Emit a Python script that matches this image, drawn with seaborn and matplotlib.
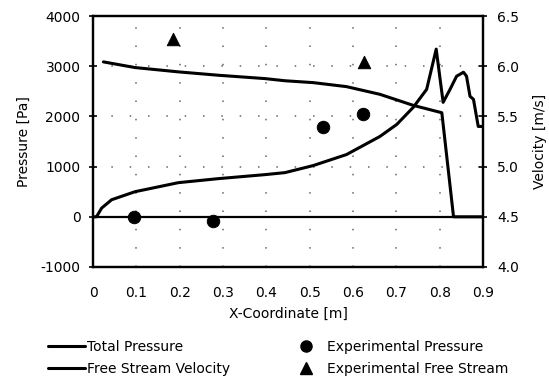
import numpy as np
import pandas as pd
import matplotlib
matplotlib.use("Agg")
import matplotlib.pyplot as plt
from matplotlib.lines import Line2D
import seaborn as sns

# ---- data ----
tp_x = [0.024, 0.097, 0.197, 0.289, 0.397, 0.443, 0.508, 0.585, 0.662, 0.739, 0.805, 0.832, 0.9]
tp_y = [3086, 2973, 2887, 2820, 2753, 2710, 2673, 2593, 2440, 2220, 2073, 0, 0]

v_x = [0.0, 0.008, 0.02, 0.043, 0.097, 0.197, 0.289, 0.397, 0.443, 0.508, 0.585, 0.662,
       0.701, 0.739, 0.77, 0.792, 0.808, 0.824, 0.839, 0.855, 0.862, 0.870, 0.878, 0.889, 0.9]
v_y = [4.5, 4.5, 4.587, 4.67, 4.75, 4.84, 4.88, 4.92, 4.94, 5.01, 5.12, 5.30,
       5.42, 5.59, 5.77, 6.17, 5.64, 5.77, 5.90, 5.94, 5.90, 5.70, 5.67, 5.40, 5.40]

ep_x = [0.095, 0.277, 0.531, 0.623]
ep_y = [0, -80, 1780, 2040]

ev_x = [0.185, 0.625]
ev_y = [6.27, 6.04]

x_ticks = [0, 0.1, 0.2, 0.3, 0.4, 0.5, 0.6, 0.7, 0.8, 0.9]
x_labels = ["0", "0.1", "0.2", "0.3", "0.4", "0.5", "0.6", "0.7", "0.8", "0.9"]
p_ticks = [-1000, 0, 1000, 2000, 3000, 4000]
v_ticks = [4.0, 4.5, 5.0, 5.5, 6.0, 6.5]

sns.set_style("white")
plt.rcParams['font.family'] = ['DejaVu Sans']
plt.rcParams['font.size'] = 10
plt.rcParams['axes.unicode_minus'] = False
plt.rcParams['text.color'] = 'black'
plt.rcParams['axes.labelcolor'] = 'black'

FS = 10

fig = plt.figure(figsize=(5.49, 3.79), dpi=100)
ax = fig.add_axes([93/549, 1-267/379, 390/549, 251/379])
ax2 = ax.twinx()

dfp = pd.DataFrame({"x": tp_x, "y": tp_y})
dfv = pd.DataFrame({"x": v_x, "y": v_y})
sns.lineplot(data=dfp, x="x", y="y", ax=ax, color="black", lw=2.2, sort=False, zorder=3)
sns.lineplot(data=dfv, x="x", y="y", ax=ax2, color="black", lw=2.2, sort=False, zorder=3)
sns.scatterplot(x=ep_x, y=ep_y, ax=ax, color="black", marker="o", s=80, edgecolor="black", zorder=4)
sns.scatterplot(x=ev_x, y=ev_y, ax=ax2, color="black", marker="^", s=80, edgecolor="black", zorder=4)

ax.axhline(0, color="black", lw=1.6, zorder=2)

ax.set_xlim(0, 0.9)
ax.set_ylim(-1000, 4000)
ax2.set_ylim(4.0, 6.5)
ax.set_xticks(x_ticks)
ax.set_xticklabels(x_labels)
ax.set_yticks(p_ticks)
ax2.set_yticks(v_ticks)
ax2.set_yticklabels([f"{v:.1f}" for v in v_ticks])

ax.grid(True, color="#666666", lw=1.1, linestyle=(0, (1, 11)))
ax2.grid(False)

for a in (ax, ax2):
    for s in a.spines.values():
        s.set_color("black")
        s.set_linewidth(1.6)
    a.tick_params(direction="inout", length=6, width=1.2, colors="black", labelsize=FS)
ax.tick_params(axis="x", pad=10.5)
ax.tick_params(axis="y", pad=6)
ax2.tick_params(axis="y", pad=7)

ax.set_xlabel("X-Coordinate [m]", fontsize=FS, labelpad=5)
ax.set_ylabel("Pressure [Pa]", fontsize=FS, labelpad=7)
ax2.set_ylabel("Velocity [m/s]", fontsize=FS, labelpad=10)

h1 = [Line2D([], [], color="black", lw=2.2, label="Total Pressure"),
      Line2D([], [], color="black", lw=2.2, label="Free Stream Velocity")]
h2 = [Line2D([], [], color="black", marker="o", lw=0, markersize=8, label="Experimental Pressure"),
      Line2D([], [], color="black", marker="^", lw=0, markersize=8, label="Experimental Free Stream")]
common = dict(frameon=False, fontsize=FS, handlelength=2.66, handletextpad=0.15,
              labelspacing=0.6, borderpad=0, borderaxespad=0, loc="upper left")
leg1 = fig.legend(handles=h1, bbox_to_anchor=(48/549, 1-340/379), **common)
leg2 = fig.legend(handles=h2, bbox_to_anchor=(288/549, 1-340/379), **common)

fig.savefig("out.png", dpi=100)
